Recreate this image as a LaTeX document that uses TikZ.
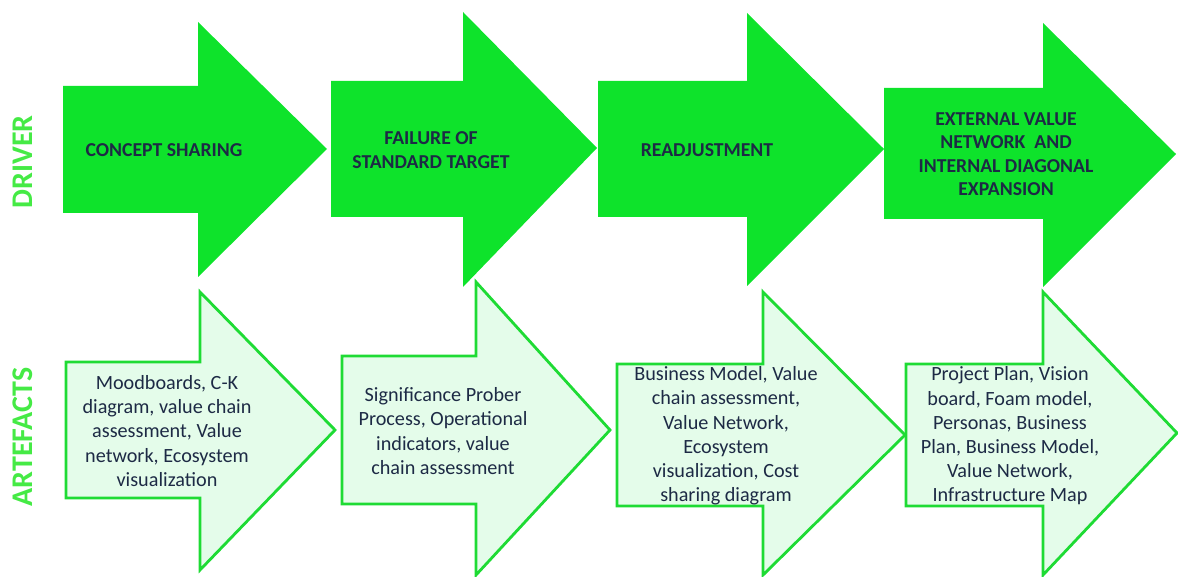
\documentclass[tikz,border=0pt]{standalone}
\usepackage{fontspec}
\setmainfont{Carlito}
\usetikzlibrary{positioning}
\definecolor{Driver}{HTML}{0EE32B}
\definecolor{ArtFill}{HTML}{E4FCEA}
\definecolor{ArtLine}{HTML}{1EDB34}
\definecolor{Ink}{HTML}{1D2A45}
\definecolor{Label}{HTML}{45EA45}
\tikzset{
  drivearrow/.style={fill=Driver,draw=none},
  artarrow/.style={fill=ArtFill,draw=ArtLine,line width=2.8pt,line join=miter},
  drivetext/.style={font=\fontsize{19.7}{23.5}\selectfont\bfseries,text=Ink,align=center,inner sep=0pt},
  arttext/.style={font=\fontsize{20.2}{24.2}\selectfont,text=Ink,align=center,inner sep=0pt},
  rowlabel/.style={font=\fontsize{30}{34}\selectfont\bfseries,text=Label,rotate=90,inner sep=0pt}
}
\begin{document}
\begin{tikzpicture}[x=1pt,y=-1pt]
  \useasboundingbox (0,0) rectangle (1178,577);
  % artefacts row
  \draw[artarrow] (66,362) -- (200,362) -- (200,292) -- (335,430) -- (200,570) -- (200,498) -- (66,498) -- cycle;
  \draw[artarrow] (342,356) -- (476,356) -- (476,282) -- (610,430) -- (476,575) -- (476,504) -- (342,504) -- cycle;
  \draw[artarrow] (617,364) -- (763,364) -- (763,292) -- (905,435) -- (763,575) -- (763,506) -- (617,506) -- cycle;
  \draw[artarrow] (906,364) -- (1043,364) -- (1043,292) -- (1177,433) -- (1043,575) -- (1043,506) -- (906,506) -- cycle;
  % driver row
  \fill[drivearrow] (63,86) -- (198,86) -- (198,22) -- (327,149) -- (198,277) -- (198,213) -- (63,213) -- cycle;
  \fill[drivearrow] (331,81) -- (463,81) -- (463,12) -- (597,148) -- (463,287) -- (463,217) -- (331,217) -- cycle;
  \fill[drivearrow] (598,81) -- (747,81) -- (747,13) -- (884,149) -- (747,286) -- (747,217) -- (598,217) -- cycle;
  \fill[drivearrow] (884,88) -- (1043,88) -- (1043,23) -- (1176,154) -- (1043,287) -- (1043,219) -- (884,219) -- cycle;
  % texts
  \node[drivetext] (drv1) at (164,150) {CONCEPT SHARING};
  \node[drivetext] (drv2) at (431,150) {FAILURE OF\\STANDARD TARGET};
  \node[drivetext] (drv3) at (707,150) {READJUSTMENT};
  \node[drivetext] (drv4) at (1006,154) {EXTERNAL VALUE\\NETWORK\ \ AND\\INTERNAL DIAGONAL\\EXPANSION};
  \node[arttext] (art1) at (167,431) {Moodboards, C-K\\diagram, value chain\\assessment, Value\\network, Ecosystem\\visualization};
  \node[arttext] (art2) at (443,431) {Significance Prober\\Process, Operational\\indicators, value\\chain assessment};
  \node[arttext] (art3) at (726,436) {Business Model, Value\\chain assessment,\\Value Network,\\Ecosystem\\visualization, Cost\\sharing diagram};
  \node[arttext] (art4) at (1010,436) {Project Plan, Vision\\board, Foam model,\\Personas, Business\\Plan, Business Model,\\Value Network,\\Infrastructure Map};
  % row labels
  \node[rowlabel] (driver) at (23,162) {DRIVER};
  \node[rowlabel] (artefacts) at (23,437) {ARTEFACTS};
\end{tikzpicture}
\end{document}
